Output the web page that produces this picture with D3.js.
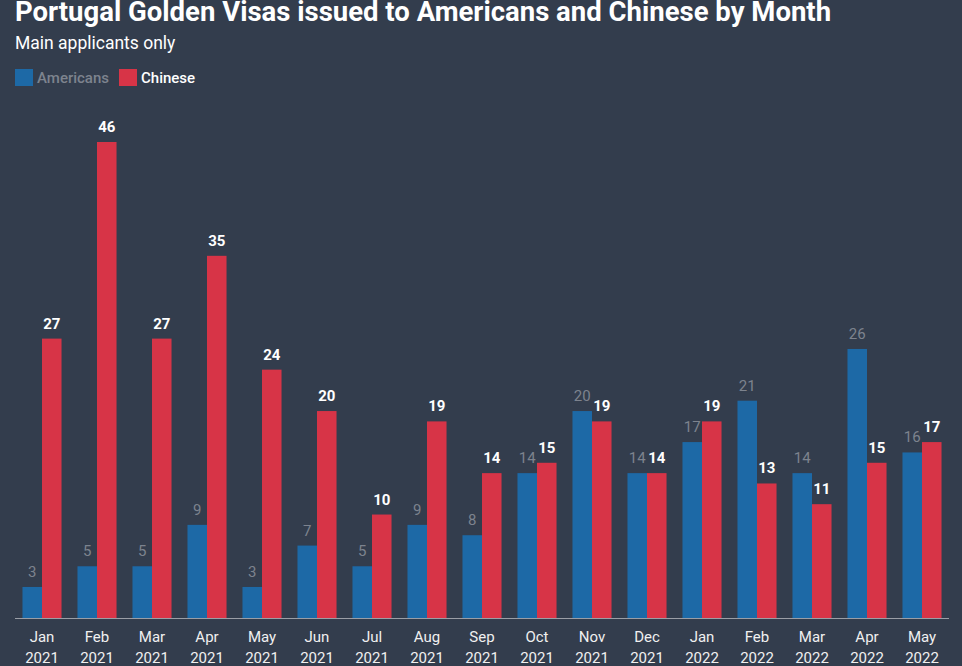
<!DOCTYPE html>
<html><head><meta charset="utf-8">
<script src="https://cdn.jsdelivr.net/npm/d3@7"></script>
<style>body{margin:0;background:#333d4d;}svg{display:block;font-family:Roboto,sans-serif;}</style>
</head><body>
<svg id="c" width="962" height="666"></svg>
<script>
const months = ["Jan","Feb","Mar","Apr","May","Jun","Jul","Aug","Sep","Oct","Nov","Dec","Jan","Feb","Mar","Apr","May"];
const years = ["2021","2021","2021","2021","2021","2021","2021","2021","2021","2021","2021","2021","2022","2022","2022","2022","2022"];
const americans = [3,5,5,9,3,7,5,9,8,14,20,14,17,21,14,26,16];
const chinese = [27,46,27,35,24,20,10,19,14,15,19,14,19,13,11,15,17];
const seriesNames = ["Americans","Chinese"];

const svg = d3.select("#c");
const W = 962, H = 666;
const colors = {Americans:"#1d69a6", Chinese:"#d73447"};
svg.append("rect").attr("width",W).attr("height",H).attr("fill","#333d4d");

const idx = d3.range(months.length);
const x = d3.scaleBand().domain(idx).range([14.5, 949.5]).paddingInner(0.29).paddingOuter(0.145);
const xs = d3.scaleBand().domain(seriesNames).range([0, x.bandwidth()]);
const y = d3.scaleLinear().domain([0, 46]).range([618, 142]);

svg.append("text").attr("x",15).attr("y",21).attr("fill","#fff").attr("font-size",27.5).attr("font-weight",700).text("Portugal Golden Visas issued to Americans and Chinese by Month");
svg.append("text").attr("x",15).attr("y",49).attr("fill","#fff").attr("font-size",17.5).text("Main applicants only");

const leg = svg.append("g");
seriesNames.forEach((s,i)=>{
  const lx = i===0 ? 15 : 119;
  leg.append("rect").attr("x",lx).attr("y",69).attr("width",18).attr("height",17).attr("fill",colors[s]);
  leg.append("text").attr("x",lx+22).attr("y",82.5).attr("font-size",15).attr("font-weight",500).attr("fill", i===0?"#7d838e":"#fff").text(s);
});

const data = {Americans: americans, Chinese: chinese};
seriesNames.forEach(s=>{
  const g = svg.append("g");
  g.selectAll("rect").data(idx).join("rect")
    .attr("x",i=>x(i)+xs(s)).attr("width",xs.bandwidth())
    .attr("y",i=>y(data[s][i])).attr("height",i=>y(0)-y(data[s][i]))
    .attr("fill",colors[s]);
  g.selectAll("text").data(idx).join("text")
    .attr("x",i=>x(i)+xs(s)+xs.bandwidth()/2).attr("y",i=>y(data[s][i])-10)
    .attr("text-anchor","middle").attr("font-size",15)
    .attr("font-weight", s==="Chinese"?700:400)
    .attr("fill", s==="Chinese"?"#fff":"#7d838e")
    .text(i=>data[s][i]);
});

svg.append("line").attr("x1",15).attr("x2",949).attr("y1",618.5).attr("y2",618.5).attr("stroke","#9a9ea6").attr("stroke-width",1);

const xl = svg.append("g");
xl.selectAll("text.m").data(idx).join("text").attr("class","m")
  .attr("x",i=>x(i)+x.bandwidth()/2).attr("y",642).attr("text-anchor","middle")
  .attr("font-size",15).attr("fill","#f0f0f0").text(i=>months[i]);
xl.selectAll("text.yr").data(idx).join("text").attr("class","yr")
  .attr("x",i=>x(i)+x.bandwidth()/2).attr("y",663).attr("text-anchor","middle")
  .attr("font-size",15).attr("fill","#f0f0f0").text(i=>years[i]);
</script>
</body></html>
